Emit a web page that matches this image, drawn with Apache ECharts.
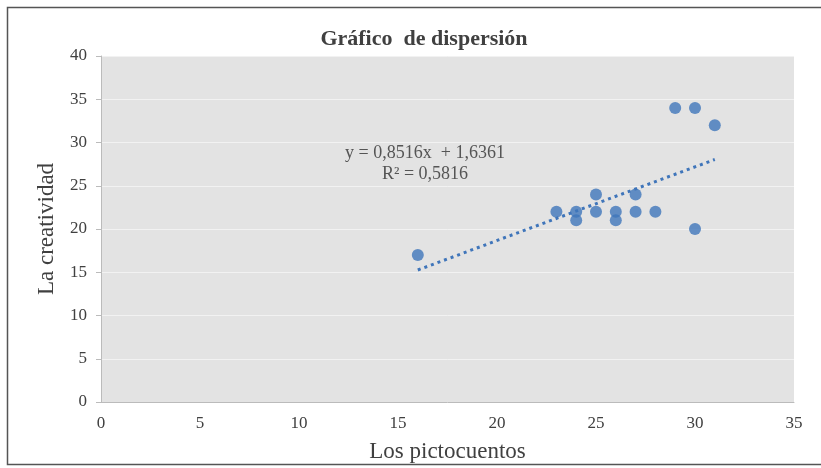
<!DOCTYPE html>
<html>
<head>
<meta charset="utf-8">
<script src="https://cdn.jsdelivr.net/npm/echarts@6/dist/echarts.min.js"></script>
<style>
  html, body { margin: 0; padding: 0; background: #fff; }
  #chart { width: 821px; height: 468px; }
</style>
</head>
<body>
<div id="chart"></div>
<script>
// los pictocuentos (x) vs la creatividad (y)
const pictocuentos = [16, 23, 24, 24, 25, 25, 26, 26, 27, 27, 28, 29, 30, 31, 30];
const creatividad  = [17, 22, 22, 21, 24, 22, 22, 21, 24, 22, 22, 34, 34, 32, 20];
const slope = 0.8516;
const intercept = 1.6361;
const r2 = 0.5816;
const xTicks = [0, 5, 10, 15, 20, 25, 30, 35];
const yTicks = [0, 5, 10, 15, 20, 25, 30, 35, 40];

const points = pictocuentos.map((x, i) => [x, creatividad[i]]);
const xMin = Math.min(...pictocuentos);
const xMax = Math.max(...pictocuentos);
const trend = [xMin, xMax].map(x => [x, slope * x + intercept]);

const fmt = v => v.toFixed(4).replace('.', ',');
const serif = '"Liberation Serif", "DejaVu Serif", serif';
const blue = '#3f75ba';
const ink = '#404040';

const chart = echarts.init(document.getElementById('chart'));
chart.setOption({
  animation: false,
  backgroundColor: '#fff',
  title: {
    text: 'Gráfico  de dispersión',
    left: 419,
    top: 23,
    textAlign: 'center',
    textStyle: { fontFamily: serif, fontSize: 22, fontWeight: 'bold', color: ink }
  },
  graphic: [
    {
      type: 'rect',
      shape: { x: 7.5, y: 7.5, width: 830, height: 457 },
      style: { fill: 'none', stroke: '#555', lineWidth: 1.5 },
      silent: true
    },
    {
      type: 'text',
      x: 47,
      y: 229,
      rotation: Math.PI / 2,
      style: {
        text: 'La creatividad',
        font: '23px ' + serif,
        fill: ink,
        align: 'center',
        verticalAlign: 'middle'
      }
    },
    {
      type: 'text',
      x: 425,
      y: 143,
      style: {
        text: 'y = ' + fmt(slope) + 'x  + ' + fmt(intercept) + '\nR² = ' + fmt(r2),
        font: '18px ' + serif,
        fill: '#555',
        align: 'center',
        lineHeight: 21
      },
      z: 10
    }
  ],
  grid: {
    left: 101, right: 27, top: 56, bottom: 65,
    show: true,
    backgroundColor: '#e3e3e3',
    borderWidth: 0
  },
  xAxis: {
    type: 'value',
    min: xTicks[0],
    max: xTicks[xTicks.length - 1],
    interval: 5,
    name: 'Los pictocuentos',
    nameLocation: 'middle',
    nameGap: 38,
    nameTextStyle: { fontFamily: serif, fontSize: 23, color: ink },
    axisLine: { lineStyle: { color: '#bbb' } },
    axisTick: { show: false },
    axisLabel: { fontFamily: serif, fontSize: 17, color: ink, margin: 13 },
    splitLine: { show: false }
  },
  yAxis: {
    type: 'value',
    min: yTicks[0],
    max: yTicks[yTicks.length - 1],
    interval: 5,
    axisLine: { show: true, lineStyle: { color: '#bbb' } },
    axisTick: { show: true, length: 5, lineStyle: { color: '#bbb' } },
    axisLabel: { fontFamily: serif, fontSize: 17, color: ink, margin: 14 },
    splitLine: { lineStyle: { color: '#f2f2f2', width: 1 } }
  },
  series: [
    {
      type: 'line',
      data: trend,
      showSymbol: false,
      lineStyle: { color: blue, width: 3, type: [3, 4] },
      z: 2
    },
    {
      type: 'scatter',
      data: points,
      symbolSize: 12,
      itemStyle: { color: blue },
      z: 3
    }
  ]
});
</script>
</body>
</html>
